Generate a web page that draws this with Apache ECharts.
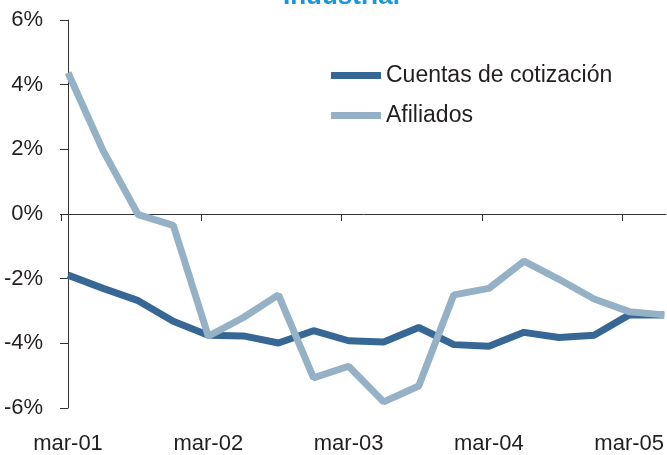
<!DOCTYPE html>
<html>
<head>
<meta charset="utf-8">
<script src="https://cdn.jsdelivr.net/npm/echarts@6/dist/echarts.min.js"></script>
<style>
  html, body { margin: 0; padding: 0; background: #fff; }
  #chart { width: 667px; height: 455px; }
</style>
</head>
<body>
<div id="chart"></div>
<script>
// trimestres mar-01 .. jun-05
var categories = ['mar-01', 'jun-01', 'sep-01', 'dic-01',
    'mar-02', 'jun-02', 'sep-02', 'dic-02',
    'mar-03', 'jun-03', 'sep-03', 'dic-03',
    'mar-04', 'jun-04', 'sep-04', 'dic-04',
    'mar-05', 'jun-05'];
var cuentas = [-1.89, -2.30, -2.68, -3.32, -3.75, -3.77, -3.99, -3.61, -3.92,
    -3.96, -3.51, -4.04, -4.09, -3.66, -3.82, -3.75, -3.12, -3.12];
var afiliados = [4.37, 1.96, -0.02, -0.35, -3.78, -3.20, -2.50, -5.07, -4.71,
    -5.81, -5.32, -2.50, -2.30, -1.46, -2.02, -2.63, -3.02, -3.12];
var labelIdx = [0, 4, 8, 12, 16];
var tickPos = [-0.2, 3.8, 7.8, 11.8, 15.8];

var textColor = '#231f20';
var font = 'Liberation Sans';

function pairs(values) {
    return values.map(function (v, i) { return [i, v]; });
}

var chart = echarts.init(document.getElementById('chart'));
chart.setOption({
    animation: false,
    title: {
        text: 'Industrial',
        left: 278,
        top: -21,
        textStyle: {color: '#1a96de', fontSize: 26, fontWeight: 'bold', fontFamily: font}
    },
    legend: {
        orient: 'vertical',
        left: 331,
        top: 64,
        padding: 0,
        itemWidth: 50,
        itemHeight: 7,
        itemGap: 17,
        icon: 'rect',
        textStyle: {color: textColor, fontSize: 23, fontFamily: font},
        data: ['Cuentas de cotización', 'Afiliados']
    },
    grid: {left: 61, right: 0, top: 20, bottom: 45},
    xAxis: [
        {
            // etiquetas abajo
            type: 'value',
            position: 'bottom',
            min: -0.2,
            max: 17.05,
            axisLine: {show: false, onZero: false},
            axisTick: {show: false},
            splitLine: {show: false},
            axisLabel: {
                customValues: labelIdx,
                formatter: function (v) { return categories[Math.round(v)]; },
                color: textColor, fontSize: 22, fontFamily: font, margin: 25
            }
        },
        {
            // eje en el 0%
            type: 'value',
            position: 'bottom',
            min: -0.2,
            max: 17.05,
            axisLine: {show: true, onZero: true, lineStyle: {color: '#333', width: 1}},
            axisTick: {show: true, customValues: tickPos, length: 7, lineStyle: {color: '#333'}},
            axisLabel: {show: false},
            splitLine: {show: false}
        }
    ],
    yAxis: {
        type: 'value',
        min: -6,
        max: 6,
        interval: 2,
        axisLine: {show: true, lineStyle: {color: '#333', width: 1}},
        axisTick: {show: true, length: 8, lineStyle: {color: '#333'}},
        splitLine: {show: false},
        axisLabel: {
            formatter: '{value}%',
            color: textColor, fontSize: 22, fontFamily: font, margin: 18
        }
    },
    series: [
        {
            name: 'Cuentas de cotización',
            type: 'line',
            xAxisIndex: 0,
            data: pairs(cuentas),
            showSymbol: false,
            symbol: 'none',
            color: '#366795',
            lineStyle: {width: 7, color: '#366795'}
        },
        {
            name: 'Afiliados',
            type: 'line',
            xAxisIndex: 0,
            data: pairs(afiliados),
            showSymbol: false,
            symbol: 'none',
            color: '#95b1c6',
            lineStyle: {width: 7, color: '#95b1c6'}
        }
    ]
});
</script>
</body>
</html>
